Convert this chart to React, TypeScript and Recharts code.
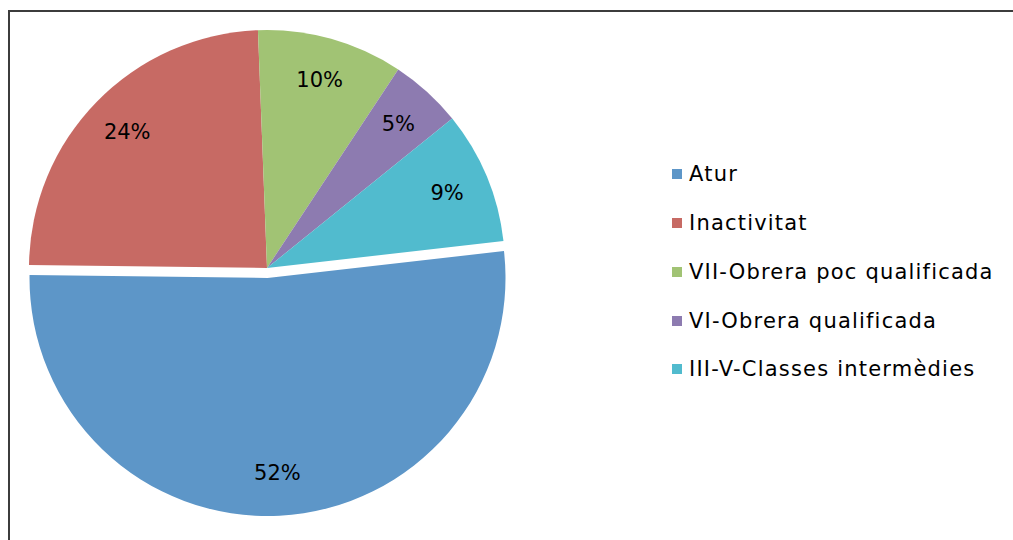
import React from 'react';
import { PieChart, Pie, Cell, Legend } from 'recharts';

const categories = [
  'Atur',
  'Inactivitat',
  'VII-Obrera poc qualificada',
  'VI-Obrera qualificada',
  'III-V-Classes intermèdies',
];
const shares = [52.0, 24.2, 9.9, 4.9, 9.0];
const colors = ['#5D96C8', '#C76A64', '#A1C374', '#8D7BB0', '#51BBCE'];

const data = categories.map((name, i) => ({ name, value: shares[i] }));

const CX = 267;
const CY = 268;
const R = 238;
const START = 6.5;
const END = START - 360;
const EXPLODE = 10;

// direction of the first slice's middle, to push it out of the pie
const total = shares.reduce((a, b) => a + b, 0);
const firstMid = START - ((shares[0] / total) * 360) / 2;
const RAD = Math.PI / 180;
const exX = CX + EXPLODE * Math.cos(-firstMid * RAD);
const exY = CY + EXPLODE * Math.sin(-firstMid * RAD);

const FONT = '"DejaVu Sans", Verdana, sans-serif';

const makeLabel = (only: (i: number) => boolean) => (props: any) => {
  const { cx, cy, midAngle, outerRadius, percent, index } = props;
  if (!only(index)) return null;
  const r = outerRadius * 0.82;
  const x = cx + r * Math.cos(-midAngle * RAD);
  const y = cy + r * Math.sin(-midAngle * RAD);
  return (
    <text
      x={x}
      y={y}
      fill="#000"
      textAnchor="middle"
      dominantBaseline="central"
      style={{ fontSize: 21, fontFamily: FONT }}
    >
      {`${Math.round(percent * 100)}%`}
    </text>
  );
};

const LegendList = () => (
  <div style={{ fontFamily: FONT }}>
    {categories.map((name, i) => (
      <div
        key={name}
        style={{ display: 'flex', alignItems: 'center', height: 48.75 }}
      >
        <span
          style={{
            width: 10,
            height: 10,
            background: colors[i],
            marginRight: 7,
            display: 'inline-block',
            flexShrink: 0,
          }}
        />
        <span style={{ fontSize: 21, letterSpacing: 1.2, color: '#000', whiteSpace: 'nowrap' }}>{name}</span>
      </div>
    ))}
  </div>
);

export default function App() {
  return (
    <div style={{ position: 'absolute', left: 0, top: 0, width: 1013, height: 540, background: '#fff', overflow: 'hidden' }}>
      <div
        style={{
          position: 'absolute',
          left: 8,
          top: 10,
          width: 1100,
          height: 600,
          borderTop: '2px solid #3c3c3c',
          borderLeft: '2px solid #3c3c3c',
        }}
      />
      <div style={{ position: 'absolute', left: 0, top: 0 }}>
        <PieChart width={1013} height={540} margin={{ top: 0, right: 0, bottom: 0, left: 0 }}>
          <Pie
            data={data}
            dataKey="value"
            nameKey="name"
            cx={CX}
            cy={CY}
            outerRadius={R}
            startAngle={START}
            endAngle={END}
            stroke="none"
            label={makeLabel((i) => i !== 0)}
            labelLine={false}
            isAnimationActive={false}
          >
            {data.map((d, i) => (
              <Cell key={d.name} fill={i === 0 ? 'transparent' : colors[i]} />
            ))}
          </Pie>
          <Pie
            data={data}
            dataKey="value"
            nameKey="name"
            cx={exX}
            cy={exY}
            outerRadius={R}
            startAngle={START}
            endAngle={END}
            stroke="none"
            label={makeLabel((i) => i === 0)}
            labelLine={false}
            isAnimationActive={false}
          >
            {data.map((d, i) => (
              <Cell key={d.name} fill={i === 0 ? colors[0] : 'transparent'} />
            ))}
          </Pie>
          <Legend
            layout="vertical"
            align="right"
            verticalAlign="top"
            content={() => <LegendList />}
            wrapperStyle={{ left: 672, top: 150, width: 340 }}
          />
        </PieChart>
      </div>
    </div>
  );
}
